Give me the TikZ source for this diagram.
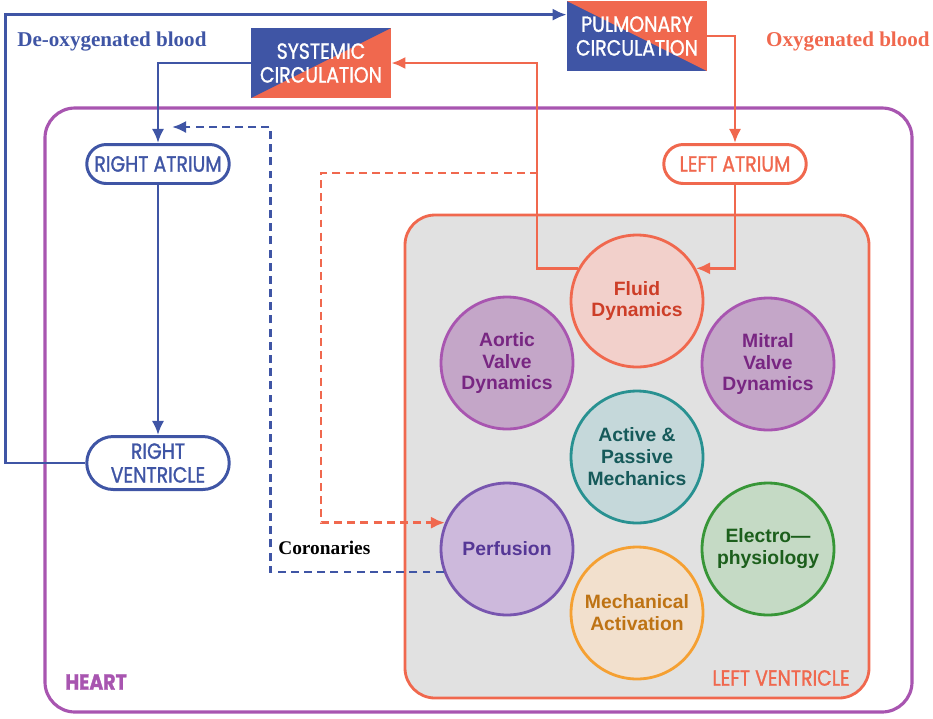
\documentclass[tikz,border=0pt]{standalone}
\usepackage{fontspec}
\setmainfont{Liberation Serif}
\setsansfont{Liberation Sans}
\newfontfamily\futfont[FakeStretch=0.86,FakeBold=1.2]{Poppins}
\usetikzlibrary{arrows.meta,shapes.misc}

\definecolor{venblue}{RGB}{63,85,165}
\definecolor{artorange}{RGB}{240,104,78}
\definecolor{heartpurple}{RGB}{168,85,176}
\definecolor{lvgray}{RGB}{225,225,225}
% circle colours: fill, border, text
\definecolor{fluidfill}{RGB}{242,208,203}
\definecolor{fluidtext}{RGB}{205,62,40}
\definecolor{valvefill}{RGB}{196,166,200}
\definecolor{valvetext}{RGB}{120,38,130}
\definecolor{mechfill}{RGB}{197,216,218}
\definecolor{mechdraw}{RGB}{40,145,145}
\definecolor{mechtext}{RGB}{22,90,90}
\definecolor{perffill}{RGB}{205,185,220}
\definecolor{perfdraw}{RGB}{120,85,175}
\definecolor{perftext}{RGB}{85,55,150}
\definecolor{actfill}{RGB}{242,224,205}
\definecolor{actdraw}{RGB}{245,160,50}
\definecolor{acttext}{RGB}{190,115,20}
\definecolor{epfill}{RGB}{197,218,197}
\definecolor{epdraw}{RGB}{55,150,55}
\definecolor{eptext}{RGB}{28,95,28}

\tikzset{
  chamber/.style={rounded rectangle, draw, line width=1.7pt, fill=white,
    minimum width=2.92cm, minimum height=0.78cm, inner sep=1pt, align=center,
    font=\futfont\fontsize{12.5}{13.5}\selectfont},
  circbox/.style={rectangle, minimum width=2.8cm, minimum height=1.4cm, inner sep=0pt,
    align=center, text=white, font=\futfont\fontsize{12.5}{13.5}\selectfont},
  sysfill/.style={path picture={
    \fill[artorange] (path picture bounding box.south west) rectangle (path picture bounding box.north east);
    \fill[venblue] (path picture bounding box.south west) -- (path picture bounding box.north west)
      -- (path picture bounding box.north east) -- cycle;}},
  pulfill/.style={path picture={
    \fill[venblue] (path picture bounding box.south west) rectangle (path picture bounding box.north east);
    \fill[artorange] (path picture bounding box.north west) -- (path picture bounding box.north east)
      -- (path picture bounding box.south east) -- cycle;}},
  model/.style n args={3}{circle, minimum size=2.64cm, inner sep=0pt, line width=1.6pt,
    fill=#1, draw=#2, text=#3, align=center,
    font=\sffamily\bfseries\fontsize{11}{12.5}\selectfont},
  bflow/.style={draw=venblue, line width=1.6pt, ->},
  oflow/.style={draw=artorange, line width=1.6pt, ->},
  dashflow/.style={dash pattern=on 4.5pt off 3pt}
}

\begin{document}
\begin{tikzpicture}[x=0.02cm,y=-0.02cm,>={Latex[length=8pt,width=7pt]}]
    \useasboundingbox (0,0) rectangle (933,718);

    % the heart and the left ventricle
    \draw[heartpurple, line width=1.8pt, rounded corners=0.6cm] (45,108) rectangle (912,712);
    \draw[artorange, line width=1.6pt, fill=lvgray, rounded corners=0.6cm] (405,215) rectangle (869,698);
    \node[anchor=west, inner sep=0pt, text=heartpurple, font=\futfont\bfseries\fontsize{12.5}{13}\selectfont] (heartlabel) at (65,682) {HEART};
    \node[anchor=east, inner sep=0pt, text=artorange, font=\futfont\fontsize{12.5}{13}\selectfont] (lvlabel) at (850,678) {LEFT VENTRICLE};

    % chambers and circulations
    \node[chamber, draw=venblue, text=venblue] (ra) at (158,164) {RIGHT ATRIUM};
    \node[chamber, draw=venblue, text=venblue, minimum height=1.06cm] (rv) at (158,463) {RIGHT\\VENTRICLE};
    \node[chamber, draw=artorange, text=artorange] (la) at (735,164) {LEFT ATRIUM};
    \node[circbox, sysfill] (sys) at (321,63) {SYSTEMIC\\CIRCULATION};
    \node[circbox, pulfill] (pul) at (637,36) {PULMONARY\\CIRCULATION};

    \node[anchor=west, inner sep=0pt, text=venblue, font=\bfseries\fontsize{12}{14}\selectfont] (deoxy) at (17,42) {De-oxygenated blood};
    \node[anchor=east, inner sep=0pt, text=artorange, font=\bfseries\fontsize{12}{14}\selectfont] (oxy) at (930,42) {Oxygenated blood};

    % the models of the left ventricle
    \node[model={fluidfill}{artorange}{fluidtext}] (fluid) at (637,301) {Fluid\\Dynamics};
    \node[model={valvefill}{heartpurple}{valvetext}] (aortic) at (507,363) {Aortic\\Valve\\Dynamics};
    \node[model={valvefill}{heartpurple}{valvetext}] (mitral) at (768,364) {Mitral\\Valve\\Dynamics};
    \node[model={mechfill}{mechdraw}{mechtext}] (active) at (637,457) {Active \&\\Passive\\Mechanics};
    \node[model={perffill}{perfdraw}{perftext}] (perf) at (507,549) {Perfusion};
    \node[model={actfill}{actdraw}{acttext}] (mech) at (637,613) {Mechanical\\Activation};
    \node[model={epfill}{epdraw}{eptext}] (electro) at (768,549) {Electro—\\physiology};

    % blood flow
    \draw[bflow] (rv.west) -- ++(-80,0) |- ([yshift=-0.28cm]pul.north west);
    \draw[bflow] (sys.west) -| (ra.north);
    \draw[bflow] (ra.south) -- (rv.north);
    \draw[oflow] (pul.east) -| (la.north);
    \draw[oflow] (la.south) |- (fluid.29);
    \draw[oflow] (fluid.151) -- ++(-41,0) |- (sys.east);

    % coronaries
    \coordinate (lvtap) at (538,173);
    \coordinate (coroend) at (172,127);
    \draw[oflow, dashflow] (lvtap) -- ++(-217,0) |- (perf.157);
    \draw[bflow, dashflow] (perf.200) -- ++(-173,0) |- (coroend);
    \node[anchor=west, inner sep=0pt, font=\bfseries\fontsize{11}{13}\selectfont] (coro) at (278,548) {Coronaries};
\end{tikzpicture}
\end{document}
